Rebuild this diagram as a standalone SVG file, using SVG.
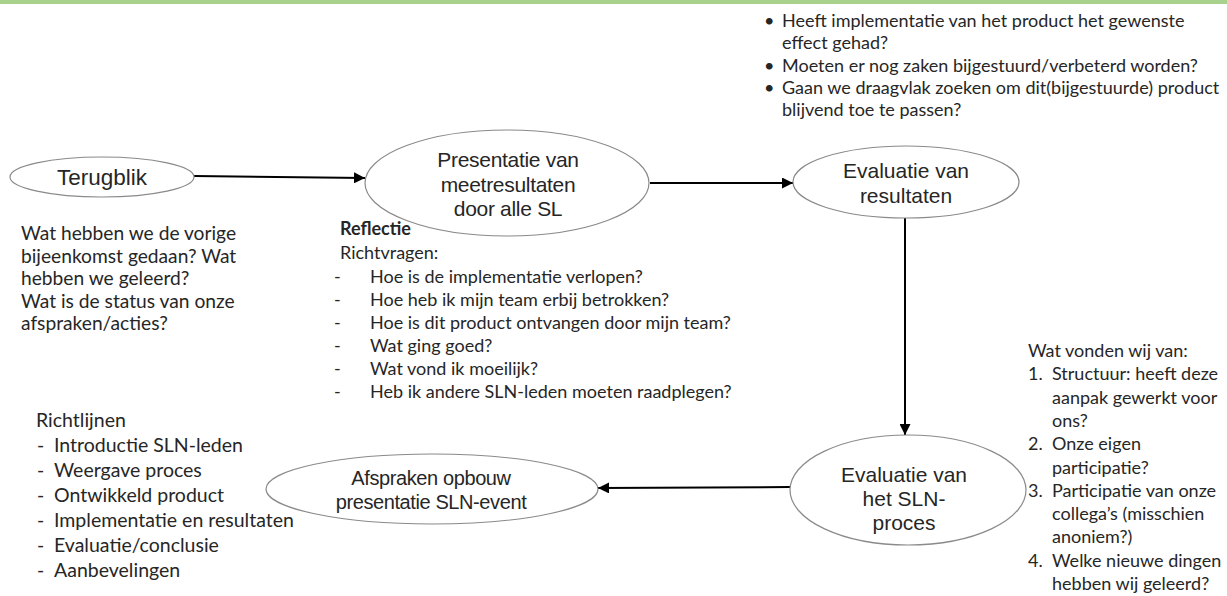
<svg xmlns="http://www.w3.org/2000/svg" width="1227" height="596" viewBox="0 0 1227 596">
<style>
.node ellipse{fill:#fff;stroke:#8a8a8a;stroke-width:1.2}
.nt{font-family:"Liberation Sans",Arial,sans-serif;font-size:21px;fill:#262626;text-anchor:middle}
.body{font-family:Lato,"Open Sans",sans-serif;font-size:18px;fill:#262626}
.conn line{stroke:#000;stroke-width:2}
</style>
<defs>
<marker id="ah" viewBox="0 0 10 10" refX="10" refY="5" markerWidth="5.5" markerHeight="5.5" orient="auto" markerUnits="strokeWidth">
<path d="M0,0 L10,5 L0,10 z" fill="#000"/>
</marker>
</defs>
<rect x="0" y="0" width="1227" height="4" fill="#a9d18e"/>

<g class="conn">
<line x1="194" y1="176" x2="365" y2="178" marker-end="url(#ah)"/>
<line x1="650" y1="183" x2="793" y2="183" marker-end="url(#ah)"/>
<line x1="905" y1="218" x2="905" y2="435" marker-end="url(#ah)"/>
<line x1="790" y1="487" x2="598" y2="488" marker-end="url(#ah)"/>
</g>

<g id="terugblik" class="node">
<ellipse cx="102" cy="177" rx="92" ry="20"/>
<text class="nt" x="102" y="185" style="font-size:22.5px">Terugblik</text>
</g>

<g id="presentatie" class="node">
<ellipse cx="507" cy="183" rx="142" ry="53"/>
<text class="nt" x="508" y="167" letter-spacing="-0.3">Presentatie van</text>
<text class="nt" x="508" y="192" letter-spacing="-0.3">meetresultaten</text>
<text class="nt" x="508" y="216" letter-spacing="-0.3">door alle SL</text>
</g>

<g id="evaluatie-resultaten" class="node">
<ellipse cx="906" cy="182" rx="113" ry="36"/>
<text class="nt" x="906" y="178">Evaluatie van</text>
<text class="nt" x="906" y="203">resultaten</text>
</g>

<g id="evaluatie-sln" class="node">
<ellipse cx="908" cy="490" rx="118" ry="55"/>
<text class="nt" x="904" y="482">Evaluatie van</text>
<text class="nt" x="904" y="506">het SLN-</text>
<text class="nt" x="904" y="530">proces</text>
</g>

<g id="afspraken" class="node">
<ellipse cx="432" cy="489" rx="166" ry="35"/>
<text class="nt" x="431" y="485" style="font-size:20px" letter-spacing="-0.4">Afspraken opbouw</text>
<text class="nt" x="431" y="509" style="font-size:20px" letter-spacing="-0.4">presentatie SLN-event</text>
</g>

<g id="terugblik-tekst" class="body" style="font-size:19.2px">
<text x="21" y="240">Wat hebben we de vorige</text>
<text x="21" y="262.5">bijeenkomst gedaan? Wat</text>
<text x="21" y="285">hebben we geleerd?</text>
<text x="21" y="307.5">Wat is de status van onze</text>
<text x="21" y="330">afspraken/acties?</text>
</g>

<g id="reflectie-tekst" class="body">
<text x="340" y="235" font-weight="bold">Reflectie</text>
<text x="340" y="259">Richtvragen:</text>
<text x="334" y="283">-</text><text x="370" y="283">Hoe is de implementatie verlopen?</text>
<text x="334" y="306">-</text><text x="370" y="306">Hoe heb ik mijn team erbij betrokken?</text>
<text x="334" y="329">-</text><text x="370" y="329">Hoe is dit product ontvangen door mijn team?</text>
<text x="334" y="352">-</text><text x="370" y="352">Wat ging goed?</text>
<text x="334" y="375">-</text><text x="370" y="375">Wat vond ik moeilijk?</text>
<text x="334" y="398">-</text><text x="370" y="398">Heb ik andere SLN-leden moeten raadplegen?</text>
</g>

<g id="evaluatie-vragen" class="body">
<text x="764" y="27">•</text><text x="782" y="27">Heeft implementatie van het product het gewenste</text>
<text x="782" y="49">effect gehad?</text>
<text x="764" y="72">•</text><text x="782" y="72">Moeten er nog zaken bijgestuurd/verbeterd worden?</text>
<text x="764" y="94">•</text><text x="782" y="94">Gaan we draagvlak zoeken om dit(bijgestuurde) product</text>
<text x="782" y="116">blijvend toe te passen?</text>
</g>

<g id="sln-vragen" class="body">
<text x="1028" y="357">Wat vonden wij van:</text>
<text x="1028" y="380.3">1.</text><text x="1052" y="380.3">Structuur: heeft deze</text>
<text x="1052" y="403.6">aanpak gewerkt voor</text>
<text x="1052" y="426.9">ons?</text>
<text x="1028" y="450.2">2.</text><text x="1052" y="450.2">Onze eigen</text>
<text x="1052" y="473.5">participatie?</text>
<text x="1028" y="496.8">3.</text><text x="1052" y="496.8">Participatie van onze</text>
<text x="1052" y="520.1">collega’s (misschien</text>
<text x="1052" y="543.4">anoniem?)</text>
<text x="1028" y="566.7">4.</text><text x="1052" y="566.7">Welke nieuwe dingen</text>
<text x="1052" y="590">hebben wij geleerd?</text>
</g>

<g id="richtlijnen" class="body" style="font-size:19.5px">
<text x="36" y="427">Richtlijnen</text>
<text x="37" y="452">-</text><text x="54" y="452">Introductie SLN-leden</text>
<text x="37" y="477">-</text><text x="54" y="477">Weergave proces</text>
<text x="37" y="502">-</text><text x="54" y="502">Ontwikkeld product</text>
<text x="37" y="527">-</text><text x="54" y="527">Implementatie en resultaten</text>
<text x="37" y="552">-</text><text x="54" y="552">Evaluatie/conclusie</text>
<text x="37" y="577">-</text><text x="54" y="577">Aanbevelingen</text>
</g>
</svg>
